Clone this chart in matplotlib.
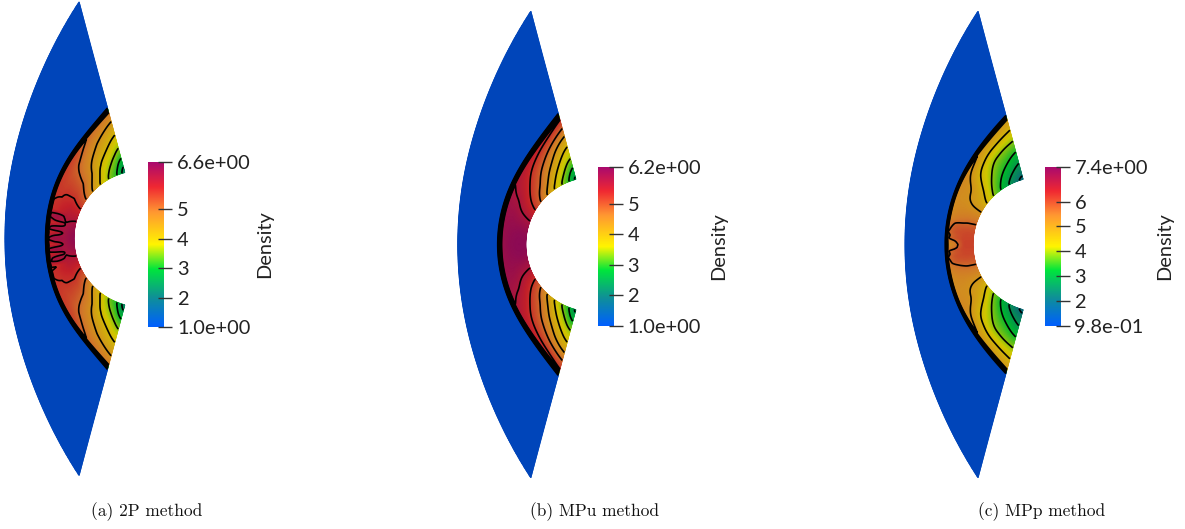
import numpy as np
import matplotlib
matplotlib.use("Agg")
import matplotlib.pyplot as plt
from matplotlib.colors import LinearSegmentedColormap, Normalize

W, H = 1185, 529

# ---- data ----
theta_stations = [0, 10, 20, 30, 40, 50, 60, 70, 75]      # degrees from the stagnation line
layer_stations = [0.0, 0.33, 0.66, 1.0]                   # body -> behind the shock

density_a = [[6.50, 6.25, 6.05, 5.85],
             [6.30, 6.15, 6.05, 5.85],
             [5.85, 5.90, 5.90, 5.80],
             [5.35, 5.60, 5.75, 5.75],
             [4.75, 5.20, 5.50, 5.70],
             [4.15, 4.70, 5.10, 5.65],
             [3.55, 4.00, 4.75, 5.30],
             [2.90, 3.60, 4.40, 5.15],
             [2.05, 3.30, 4.25, 5.10]]
density_b = [[6.15, 6.15, 6.10, 5.95],
             [6.05, 6.10, 6.05, 5.95],
             [5.75, 5.85, 5.95, 5.95],
             [5.30, 5.50, 5.75, 5.85],
             [4.72, 5.10, 5.45, 5.70],
             [4.10, 4.70, 5.10, 5.55],
             [3.50, 4.10, 4.75, 5.45],
             [2.80, 3.55, 4.25, 5.40],
             [2.15, 3.30, 4.10, 5.35]]
density_c = [[6.10, 6.10, 5.95, 5.70],
             [6.00, 6.00, 5.85, 5.50],
             [5.50, 5.45, 5.35, 5.20],
             [5.00, 5.05, 5.15, 5.20],
             [4.30, 4.75, 5.10, 5.30],
             [3.60, 4.05, 4.45, 5.20],
             [2.85, 3.50, 4.00, 5.00],
             [2.15, 3.10, 3.90, 5.00],
             [1.95, 2.85, 3.95, 5.00]]

ripple_theta = list(range(-20, 21, 2))
ripple_a = [-.2, -.2, .3, .3, .15, -.3, .2, .25, -.25, .15, .3, .1, -.3, .25, .3, -.2, .2, .25, 0, -.3, -.2]
ripple_b = [0] * 21
ripple_c = [0, 0, 0, .1, .1, .1, .1, 0, 0, -.3, -.5, -.4, 0, 0, .1, .1, .1, 0, 0, 0, 0]

shock_theta = [0, 15, 30, 45, 60, 75]
shock_a = [92.5, 93.5, 97, 103.5, 112, 128]
shock_b = [91.5, 92.6, 95.5, 101.7, 111.5, 130]
shock_c = [92.5, 94, 97.5, 103.5, 112.5, 128.5]
band_a = [3.5, 3.5, 3.7, 3.9, 4.5, 6.2]
band_b = [4.5, 4.5, 4.5, 4.6, 5, 6.2]
band_c = [3, 3, 3, 3.5, 5, 6]

outer_r = [135.5, 138.5, 148, 165.6, 195, 241.5]
body_r = 67.5
wedge_deg = 75

panel_names = ["(a) 2P method", "(b) MPu method", "(c) MPp method"]
vmins = [1.0, 1.0, 0.98]
vmaxs = [6.6, 6.2, 7.4]
tick_values = [[6.6, 5, 4, 3, 2, 1.0], [6.2, 5, 4, 3, 2, 1.0], [7.4, 6, 5, 4, 3, 2, 0.98]]
tick_labels = [["6.6e+00", "5", "4", "3", "2", "1.0e+00"],
               ["6.2e+00", "5", "4", "3", "2", "1.0e+00"],
               ["7.4e+00", "6", "5", "4", "3", "2", "9.8e-01"]]
bar_title = "Density"
cmap_pos = [0, .18, .35, .5, .7, .85, 1]
cmap_rgb = [(0, 95, 255), (15, 145, 150), (0, 230, 60), (255, 245, 0),
            (255, 150, 50), (240, 40, 50), (170, 10, 110)]
field_gain = [.73, .77, .8, .82, .82, .82, .8]

# ---- layout ----
centers = [(142.5, 238.7), (593.3, 244.5), (1040.5, 244.5)]
scales = [1.015, 1.0, 1.0]
bars = [(147.5, 162, 15.5, 165), (598, 167, 15.5, 159), (1045, 167, 15.5, 159)]
title_x = [265, 719, 1165]
caption_x = [147, 595, 1042]
caption_y = 512
LABEL_FS = 14.4

bar_cmap = LinearSegmentedColormap.from_list("bar", [(p, tuple(c / 255 for c in rgb)) for p, rgb in zip(cmap_pos, cmap_rgb)])
field_cmap = LinearSegmentedColormap.from_list("field", [(p, tuple(g * c / 255 for c in rgb)) for p, rgb, g in zip(cmap_pos, cmap_rgb, field_gain)])


def smooth(a, n, axis):
    kernel = np.ones(n) / n
    pad = [(0, 0)] * a.ndim
    pad[axis] = (n, n)
    b = np.pad(a, pad, mode="edge")
    b = np.apply_along_axis(lambda v: np.convolve(v, kernel, mode="same"), axis, b)
    return np.take(b, range(n, n + a.shape[axis]), axis=axis)


th = np.linspace(-wedge_deg, wedge_deg, 601)
s = np.linspace(0, 1, 61)
band_s = np.linspace(0, 1, 16)[1:]


def curve(values, deg=3):
    # smooth even curve through a boundary table, as a polynomial in theta^2
    x = (np.array(shock_theta, float) / wedge_deg) ** 2
    return np.polyval(np.polyfit(x, values, deg), (th / wedge_deg) ** 2)


def panel_field(table, ripple, shock, band):
    table = np.array(table, float)
    per_layer = np.array([np.interp(np.abs(th), theta_stations, table[:, j]) for j in range(table.shape[1])]).T
    V = np.array([np.interp(s, layer_stations, row) for row in per_layer])
    V = smooth(smooth(V, 29, 0), 9, 1)
    rip = np.interp(th, ripple_theta, ripple)
    w = np.clip((s - .35) / .4, 0, 1)
    V = V + smooth(rip[:, None], 3, 0) * w[None, :]
    rs = curve(shock)
    bd = curve(band)
    ro = curve(outer_r, 4)
    R = np.column_stack([body_r + np.outer(rs - body_r, s),
                         rs[:, None] + np.outer(bd, band_s),
                         (rs + bd + .5)[:, None], ro[:, None]])
    post = V[:, -1]
    Vb = post[:, None] + np.outer(1 - post, band_s)
    F = np.column_stack([V, Vb, np.ones_like(post), np.ones_like(post)])
    return R, F


fig = plt.figure(figsize=(W / 100, H / 100), dpi=100)
ax = fig.add_axes([0, 0, 1, 1])
ax.set_xlim(0, W)
ax.set_ylim(H, 0)
ax.axis("off")

tables = [density_a, density_b, density_c]
ripples = [ripple_a, ripple_b, ripple_c]
shocks = [shock_a, shock_b, shock_c]
bands = [band_a, band_b, band_c]
tfont = ["Lato", "DejaVu Sans"]

for i in range(3):
    R, F = panel_field(tables[i], ripples[i], shocks[i], bands[i])
    cx, cy = centers[i]
    t = np.radians(th)[:, None]
    X = cx - scales[i] * R * np.cos(t)
    Y = cy + scales[i] * R * np.sin(t)
    norm = Normalize(vmins[i], vmaxs[i])
    ax.pcolormesh(X, Y, F, shading="gouraud", cmap=field_cmap, norm=norm)
    levels = np.linspace(vmins[i], vmaxs[i], 12)[1:-1]
    ax.contour(X[:, :-2], Y[:, :-2], F[:, :-2], levels=levels, colors="black", linewidths=1.2)

    x0, y0, bw, bh = bars[i]
    cax = fig.add_axes([x0 / W, 1 - (y0 + bh) / H, (bw + 2.4) / W, bh / H])
    cax.imshow(np.linspace(1, 0, 256)[:, None], cmap=bar_cmap, aspect="auto",
               extent=[0, 1, vmins[i], vmaxs[i]], vmin=0, vmax=1)
    cax.set_xlim(0, (bw + 2.4) / bw)
    for sp in cax.spines.values():
        sp.set_visible(False)
    cax.set_xticks([])
    cax.yaxis.tick_right()
    cax.set_yticks(tick_values[i])
    cax.set_yticklabels(tick_labels[i], fontsize=LABEL_FS, family=tfont, color="#222222")
    cax.tick_params(axis="y", direction="inout", length=10.6, width=1.0, color="#333333", pad=3)
    ax.text(title_x[i], y0 + bh / 2, bar_title, rotation=90,
            ha="center", va="center", fontsize=LABEL_FS, family=tfont, color="#222222")
    ax.text(caption_x[i], caption_y, panel_names[i], ha="center", va="center",
            fontsize=12.5, family="cmr10", color="#111111")

fig.savefig("out.png", dpi=100)
